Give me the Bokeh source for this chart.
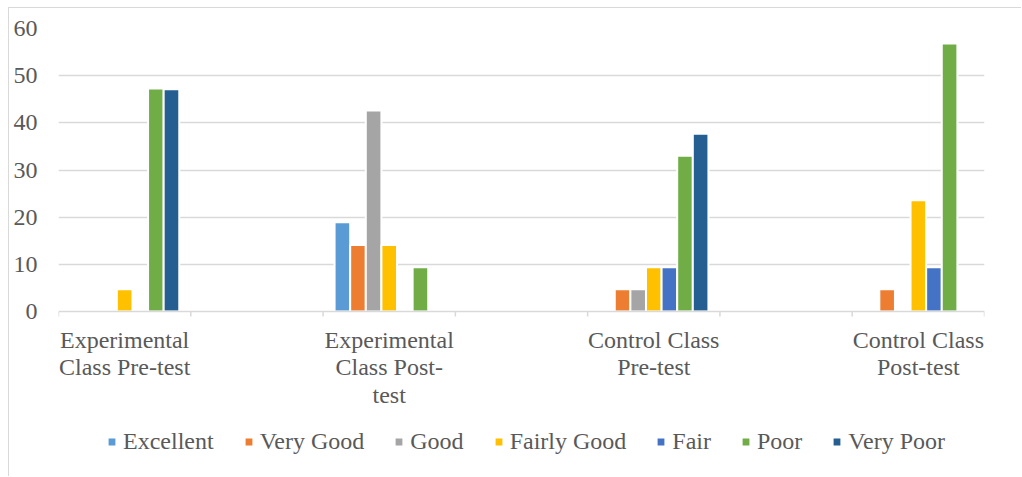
from bokeh.plotting import figure
from bokeh.models import FixedTicker, ColumnDataSource, Range1d, Legend, Span
from bokeh.core.properties import value
from bokeh.embed import file_html
from bokeh.resources import INLINE

categories = ["Experimental\nClass Pre-test", "Experimental\nClass Post-\ntest",
              "Control Class\nPre-test", "Control Class\nPost-test"]
series_names = ["Excellent", "Very Good", "Good", "Fairly Good", "Fair", "Poor", "Very Poor"]
colors = ["#5B9BD5", "#ED7D31", "#A5A5A5", "#FFC000", "#4472C4", "#70AD47", "#255E91"]

excellent = [0, 18.9, 0, 0]
very_good = [0, 14.1, 4.7, 4.7]
good = [0, 42.6, 4.7, 0]
fairly_good = [4.7, 14.1, 9.4, 23.6]
fair = [0, 0, 9.4, 9.4]
poor = [47.3, 9.4, 33.0, 56.8]
very_poor = [47.1, 0, 37.7, 0]
series_values = [excellent, very_good, good, fairly_good, fair, poor, very_poor]

y_ticks = [0, 10, 20, 30, 40, 50, 60]

FONT = "Liberation Serif"
TXT = "#595959"
GRID = "#d9d9d9"

# layout (pixels)
W, H = 1013, 469
BORDER_TOP = 20
PLOT_PX = 283          # pixel height of the 0..60 value span
ppu = PLOT_PX / 60.0   # pixels per value unit
frame_px = H - BORDER_TOP
y_start = 60 - frame_px / ppu

n_slots = 2 * len(categories) - 1
centers = [2 * i + 0.5 for i in range(len(categories))]
step = 0.118

p = figure(width=W, height=H, output_backend="svg", toolbar_location=None,
           x_range=Range1d(0, n_slots), y_range=Range1d(y_start, 60),
           min_border_left=49, min_border_right=38, min_border_top=BORDER_TOP,
           min_border_bottom=0,
           styles={"margin-left": "8px", "margin-top": "7px",
                   "border-left": "1px solid #d9d9d9", "border-top": "1px solid #d9d9d9"})
p.outline_line_color = None
p.xgrid.grid_line_color = None
p.ygrid.grid_line_color = GRID
p.ygrid.grid_line_width = 1.5
p.ygrid.ticker = FixedTicker(ticks=y_ticks[1:])
p.xaxis.visible = False

# category axis (line, boundary ticks, labels)
p.add_layout(Span(location=0, dimension="width", line_color=GRID, line_width=1.5))
bounds = list(range(n_slots + 1))
p.segment(x0=bounds, y0=[0] * len(bounds), x1=bounds, y1=[-5 / ppu] * len(bounds),
          line_color=GRID, line_width=1.5)
p.text(x=centers, y=[-15 / ppu] * len(centers), text=categories,
       text_font=value(FONT), text_font_size="24px", text_color=TXT,
       text_align="center", text_baseline="top", text_line_height=1.07)

renderers = []
for j, (name, vals, col) in enumerate(zip(series_names, series_values, colors)):
    xs = [centers[i] + (j - 3) * step for i, v in enumerate(vals) if v > 0]
    hs = [v for v in vals if v > 0]
    src = ColumnDataSource(dict(x=xs, top=hs))
    r = p.vbar(x="x", top="top", width=step, bottom=0, source=src,
               fill_color=col, line_color="white", line_width=2)
    renderers.append((name, [r]))

p.yaxis.ticker = FixedTicker(ticks=y_ticks)
p.yaxis.axis_line_color = None
p.yaxis.major_tick_line_color = None
p.yaxis.minor_tick_line_color = None
p.yaxis.major_tick_out = 0
p.yaxis.major_label_standoff = 21
p.yaxis.major_label_text_font = FONT
p.yaxis.major_label_text_font_size = "24px"
p.yaxis.major_label_text_color = TXT

legend = Legend(items=[(n, r) for n, r in renderers], orientation="horizontal",
                location=(48, 22))
legend.label_text_font = FONT
legend.label_text_font_size = "24px"
legend.label_text_color = TXT
legend.label_height = 20
legend.glyph_width = 11
legend.glyph_height = 11
legend.label_standoff = 6
legend.spacing = 29
legend.padding = 0
legend.margin = 0
legend.border_line_color = None
legend.background_fill_alpha = 0
p.add_layout(legend, "center")

open("out.html", "w").write(file_html(p, INLINE))
